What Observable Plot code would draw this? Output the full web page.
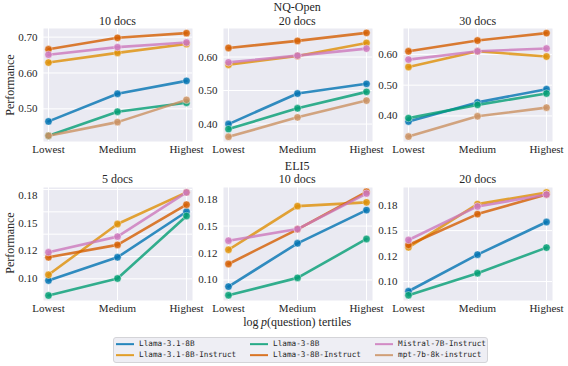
<!DOCTYPE html>
<html><head><meta charset="utf-8">
<script src="https://cdn.jsdelivr.net/npm/d3@7"></script>
<script src="https://cdn.jsdelivr.net/npm/@observablehq/plot@0.6"></script>
<style>
body{margin:0;background:#fff;}
#fig{position:relative;width:568px;height:366px;font-family:"Liberation Serif","DejaVu Serif",serif;color:#262626;overflow:hidden;}
#fig svg text{font-family:"Liberation Serif","DejaVu Serif",serif !important;font-size:11px;fill:#262626;}
.t{position:absolute;transform:translate(-50%,-50%);font-size:12px;white-space:nowrap;line-height:1;}
.p{position:absolute;}
#legend{position:absolute;left:113px;top:337px;width:375px;height:26px;box-sizing:border-box;border:1px solid #d4d4d8;border-radius:3px;background:#eeeef4;font-family:"DejaVu Sans Mono",monospace;font-size:7.7px;color:#262626;}
.li{position:absolute;display:flex;align-items:center;transform:translateY(-50%);white-space:nowrap;line-height:1;}
.sw{display:inline-block;width:18px;height:2.5px;margin-right:5px;opacity:0.85;}
</style></head><body><div id="fig"></div>
<script>
const tertiles = ["Lowest", "Medium", "Highest"];
const models = ["Llama-3.1-8B", "Llama-3.1-8B-Instruct", "Llama-3-8B", "Llama-3-8B-Instruct", "Mistral-7B-Instruct", "mpt-7b-8k-instruct"];
const colors = ["#0173b2", "#de8f05", "#029e73", "#d55e00", "#cc78bc", "#ca9161"];

// values per model (in models order), per tertile
const nq10 = [[0.465,0.542,0.578],[0.629,0.656,0.681],[0.425,0.492,0.517],[0.666,0.698,0.711],[0.651,0.672,0.685],[0.425,0.463,0.525]];
const nq20 = [[0.400,0.491,0.520],[0.577,0.603,0.642],[0.385,0.447,0.496],[0.627,0.648,0.672],[0.584,0.604,0.625],[0.362,0.420,0.470]];
const nq30 = [[0.382,0.444,0.487],[0.559,0.610,0.593],[0.393,0.436,0.473],[0.610,0.645,0.669],[0.583,0.610,0.619],[0.333,0.399,0.427]];
const eli5_5 = [[0.0985,0.1193,0.1601],[0.1036,0.1491,0.1774],[0.0851,0.1003,0.1563],[0.1193,0.1304,0.1664],[0.1238,0.1378,0.1774],null];
const eli5_10 = [[0.0938,0.1340,0.1648],[0.1280,0.1685,0.1720],[0.0858,0.1019,0.1380],[0.1148,0.1470,0.1818],[0.1364,0.1472,0.1802],null];
const eli5_20 = [[0.0905,0.1264,0.1584],[0.1336,0.1760,0.1874],[0.0866,0.1082,0.1333],[0.1359,0.1662,0.1854],[0.1408,0.1737,0.1854],null];

const nqTicks10 = [0.5, 0.6, 0.7];
const nqTicks = [0.4, 0.5, 0.6];
const nqTickLabels10 = ["0.50", "0.60", "0.70"];
const nqTickLabels = ["0.40", "0.50", "0.60"];
const eli5Ticks = [0.1, 0.125, 0.15, 0.175];
const eli5TickLabels = ["0.10", "0.12", "0.15", "0.18"];

const rowTitles = ["NQ-Open", "ELI5"];
const panelTitles = [["10 docs", "20 docs", "30 docs"], ["5 docs", "10 docs", "20 docs"]];

// layout of plot areas
const colLeft = [43, 222.7, 403.3];
const rowTop = [28.3, 186.7];
const plotW = 149, plotH = 113;
const mL = 40, mR = 6, mT = 5, mB = 22;

const panels = [
  {vals: nq10, dom: [0.409, 0.724], ticks: nqTicks10, labels: nqTickLabels10, r: 0, c: 0},
  {vals: nq20, dom: [0.348, 0.685], ticks: nqTicks, labels: nqTickLabels, r: 0, c: 1},
  {vals: nq30, dom: [0.317, 0.684], ticks: nqTicks, labels: nqTickLabels, r: 0, c: 2},
  {vals: eli5_5, dom: [0.0806, 0.1818], ticks: eli5Ticks, labels: eli5TickLabels, r: 1, c: 0},
  {vals: eli5_10, dom: [0.0809, 0.1858], ticks: eli5Ticks, labels: eli5TickLabels, r: 1, c: 1},
  {vals: eli5_20, dom: [0.0814, 0.1923], ticks: eli5Ticks, labels: eli5TickLabels, r: 1, c: 2}
];

const fig = document.getElementById("fig");

function addText(txt, x, y, extra) {
  const d = document.createElement("div");
  d.className = "t";
  d.innerHTML = txt;
  d.style.left = x + "px";
  d.style.top = y + "px";
  if (extra) Object.assign(d.style, extra);
  fig.appendChild(d);
}

panels.forEach(p => {
  const rows = [];
  p.vals.forEach((v, i) => { if (v) v.forEach((y, j) => rows.push({model: models[i], t: tertiles[j], y})); });
  const marks = [
    Plot.frame({fill: "#eaeaf2", stroke: null}),
    Plot.gridX({stroke: "white", strokeOpacity: 1, strokeWidth: 1}),
    Plot.gridY({stroke: "white", strokeOpacity: 1, strokeWidth: 1})
  ];
  models.forEach(m => {
    const d = rows.filter(r => r.model === m);
    if (!d.length) return;
    marks.push(Plot.line(d, {x: "t", y: "y", stroke: "model", strokeWidth: 2.6, strokeOpacity: 0.8}));
    marks.push(Plot.dot(d, {x: "t", y: "y", fill: "model", r: 3.7, fillOpacity: 0.85, stroke: "white", strokeWidth: 0.5, strokeOpacity: 0.8}));
  });
  const chart = Plot.plot({
    width: mL + plotW + mR, height: mT + plotH + mB,
    marginLeft: mL, marginRight: mR, marginTop: mT, marginBottom: mB,
    style: {fontSize: "11px", color: "#262626", background: "transparent", overflow: "visible"},
    x: {type: "point", domain: tertiles, padding: 0, insetLeft: 4.7, insetRight: 6.3, label: null, tickSize: 0, tickPadding: 4},
    y: {domain: p.dom, ticks: p.ticks, tickFormat: d => p.labels[p.ticks.indexOf(d)], label: null, tickSize: 0, tickPadding: 6},
    color: {domain: models, range: colors},
    marks
  });
  chart.classList.add("p");
  chart.style.left = (colLeft[p.c] - mL) + "px";
  chart.style.top = (rowTop[p.r] - mT) + "px";
  fig.appendChild(chart);
  addText(panelTitles[p.r][p.c], colLeft[p.c] + plotW / 2, rowTop[p.r] - 7.3);
});

addText(rowTitles[0], colLeft[1] + plotW / 2, 7.2);
addText(rowTitles[1], colLeft[1] + plotW / 2, 165.5);
addText("Performance", 9.5, rowTop[0] + plotH / 2, {transform: "translate(-50%,-50%) rotate(-90deg)"});
addText("Performance", 9.5, rowTop[1] + plotH / 2, {transform: "translate(-50%,-50%) rotate(-90deg)"});
addText('log\u2009<i>p</i>(question) tertiles', colLeft[1] + plotW / 2, 322);

// legend
const legend = document.createElement("div");
legend.id = "legend";
fig.appendChild(legend);
const legCols = [2, 136, 261];
const legRows = [6.3, 17.3];
models.forEach((m, i) => {
  const c = Math.floor(i / 2), r = i % 2;
  const it = document.createElement("div");
  it.className = "li";
  it.style.left = legCols[c] + "px";
  it.style.top = legRows[r] + "px";
  it.innerHTML = `<span class="sw" style="background:${colors[i]}"></span><span>${m}</span>`;
  legend.appendChild(it);
});
</script></body></html>
